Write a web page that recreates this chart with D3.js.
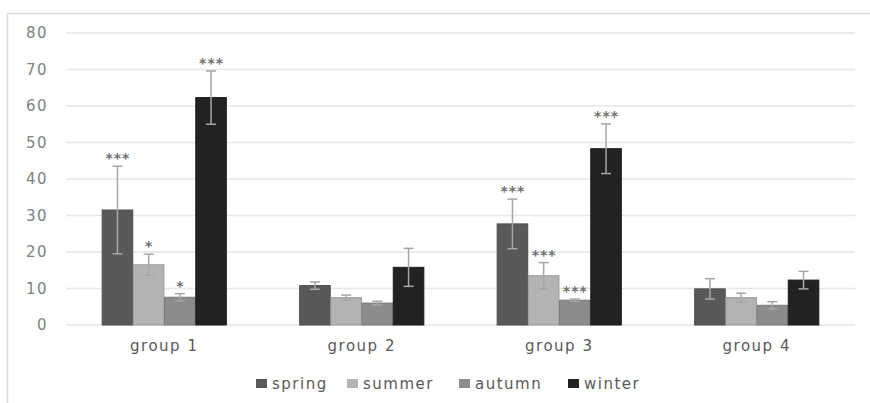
<!DOCTYPE html>
<html>
<head>
<meta charset="utf-8">
<script src="https://cdn.jsdelivr.net/npm/d3@7"></script>
<style>
  body { margin: 0; background: #fff; }
  text { font-family: "DejaVu Sans", sans-serif; }
</style>
</head>
<body>
<svg width="870" height="403"></svg>
<script>
// Data
var groups = ["group 1", "group 2", "group 3", "group 4"];
var seasons = ["spring", "summer", "autumn", "winter"];
var seasonColors = ["#595959", "#b3b3b3", "#8c8c8c", "#222222"];

// mean values per season, one entry per group
var spring = [31.5, 10.8, 27.7, 9.9];
var summer = [16.5, 7.5, 13.5, 7.5];
var autumn = [7.6, 6.0, 6.8, 5.4];
var winter = [62.3, 15.8, 48.3, 12.3];

// error (+/-) per season
var springErr = [12.0, 1.0, 6.8, 2.8];
var summerErr = [2.9, 0.7, 3.6, 1.2];
var autumnErr = [1.0, 0.5, 0.3, 1.0];
var winterErr = [7.3, 5.2, 6.8, 2.4];

// significance marks
var springSig = ["***", "", "***", ""];
var summerSig = ["*", "", "***", ""];
var autumnSig = ["*", "", "***", ""];
var winterSig = ["***", "", "***", ""];

var yTicks = [0, 10, 20, 30, 40, 50, 60, 70, 80];

var values = [spring, summer, autumn, winter];
var errors = [springErr, summerErr, autumnErr, winterErr];
var sigs = [springSig, summerSig, autumnSig, winterSig];

// flat table for drawing
var rows = [];
groups.forEach(function(g, gi) {
    seasons.forEach(function(s, si) {
        rows.push({ group: g, season: s, si: si,
            value: values[si][gi], err: errors[si][gi], sig: sigs[si][gi] });
    });
});

var svg = d3.select("svg");

// outer frame (top and left edge only visible)
svg.append("path")
    .attr("d", "M7.5,403 V13.5 H870")
    .attr("fill", "none")
    .attr("stroke", "#d9d9d9")
    .attr("stroke-width", 1.5);

var margin = { left: 66, right: 15, top: 33, bottom: 78 };
var width = 870 - margin.left - margin.right,
    height = 403 - margin.top - margin.bottom;

var g = svg.append("g").attr("transform", "translate(" + margin.left + "," + margin.top + ")");

var x0 = d3.scaleBand().domain(groups).range([0, width]).paddingInner(0.365).paddingOuter(0.18);
var x1 = d3.scaleBand().domain(seasons).range([0, x0.bandwidth()]).padding(0.02);
var y = d3.scaleLinear().domain([0, 80]).range([height, 0]);

// gridlines
g.append("g")
    .selectAll("line")
    .data(yTicks)
    .enter().append("line")
    .attr("x1", 0).attr("x2", width)
    .attr("y1", d => y(d)).attr("y2", d => y(d))
    .attr("stroke", "#e6e6e6")
    .attr("stroke-width", 1.5);

// y tick labels
var yAxis = g.append("g")
    .call(d3.axisLeft(y).tickValues(yTicks).tickSize(0).tickPadding(18));
yAxis.select(".domain").remove();
yAxis.selectAll("text")
    .attr("fill", "#7f7f7f")
    .style("font-size", "15px")
    .style("letter-spacing", "1.5px");

// x labels
var xAxis = g.append("g")
    .attr("transform", "translate(0," + height + ")")
    .call(d3.axisBottom(x0).tickSize(0).tickPadding(15));
xAxis.select(".domain").remove();
xAxis.selectAll("text")
    .attr("fill", "#595959")
    .style("font-size", "15px")
    .style("letter-spacing", "1.5px");

// bars
var bar = g.append("g")
    .selectAll("g")
    .data(rows)
    .enter().append("g")
    .attr("transform", d => "translate(" + (x0(d.group) + x1(d.season)) + ",0)");

bar.append("rect")
    .attr("x", 0)
    .attr("width", x1.bandwidth())
    .attr("y", d => y(d.value))
    .attr("height", d => y(0) - y(d.value))
    .attr("fill", d => seasonColors[d.si])
    .attr("stroke", d => d3.color(seasonColors[d.si]).darker(0.4))
    .attr("stroke-width", 1);

// error bars
var cx = x1.bandwidth() / 2;
bar.append("line")
    .attr("x1", cx).attr("x2", cx)
    .attr("y1", d => y(d.value + d.err))
    .attr("y2", d => y(d.value - d.err))
    .attr("stroke", "#a6a6a6")
    .attr("stroke-width", 1.5);

bar.selectAll(".cap")
    .data(d => [d.value + d.err, d.value - d.err])
    .enter().append("line")
    .attr("class", "cap")
    .attr("x1", cx - 5).attr("x2", cx + 5)
    .attr("y1", v => y(v)).attr("y2", v => y(v))
    .attr("stroke", "#a6a6a6")
    .attr("stroke-width", 1.5);

// significance stars
bar.append("text")
    .attr("x", cx + 0.5)
    .attr("y", d => y(d.value + d.err) - 3)
    .attr("text-anchor", "middle")
    .attr("fill", "#6f6f6f")
    .style("font-size", "14px")
    .style("font-weight", "bold")
    .style("letter-spacing", "1px")
    .text(d => d.sig);

// legend
var legendX = [256, 347, 459, 568];
var legend = svg.append("g")
    .selectAll("g")
    .data(seasons)
    .enter().append("g")
    .attr("transform", (d, i) => "translate(" + legendX[i] + ",379)");

legend.append("rect")
    .attr("width", 11).attr("height", 9)
    .attr("fill", (d, i) => seasonColors[i]);

legend.append("text")
    .attr("x", 16)
    .attr("y", 10)
    .attr("fill", "#595959")
    .style("font-size", "15px")
    .style("letter-spacing", "1.5px")
    .text(d => d);
</script>
</body>
</html>
